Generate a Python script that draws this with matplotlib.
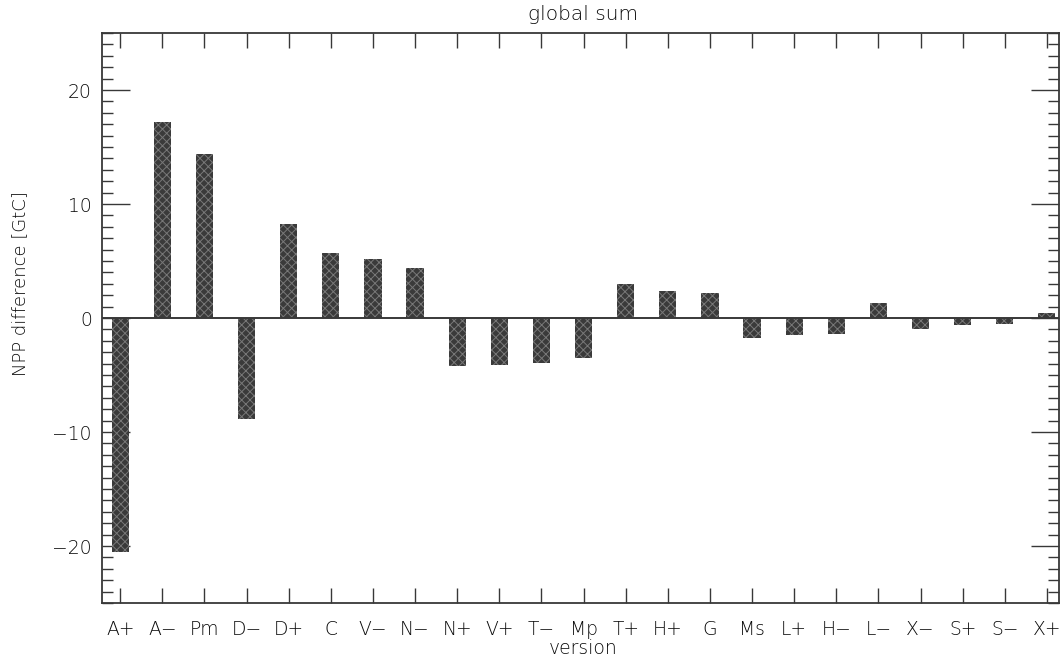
import matplotlib
matplotlib.use("Agg")
import matplotlib.pyplot as plt
from matplotlib.ticker import MultipleLocator, FixedLocator
from matplotlib import font_manager
import numpy as np

versions = ["A+", "A\u2212", "Pm", "D\u2212", "D+", "C", "V\u2212", "N\u2212", "N+",
            "V+", "T\u2212", "Mp", "T+", "H+", "G", "Ms", "L+", "H\u2212", "L\u2212",
            "X\u2212", "S+", "S\u2212", "X+"]
npp_diff = [-20.5, 17.2, 14.35, -8.85, 8.25, 5.7, 5.2, 4.4, -4.25,
            -4.15, -3.95, -3.5, 3.0, 2.4, 2.2, -1.75, -1.5, -1.4, 1.3,
            -1.0, -0.65, -0.5, 0.42]

ink = "#383838"
txt = "#0a0a0a"
plt.rcParams["font.family"] = "DejaVu Sans"
plt.rcParams["hatch.linewidth"] = 0.7

# thin weight if the ExtraLight face is present
names = {f.name + "|" + str(f.weight) for f in font_manager.fontManager.ttflist}
weight = "light" if any(n.startswith("DejaVu Sans|") and n.split("|")[1] in ("200", "light", "extra light")
                        for n in names) else "normal"

W, H = 1061, 660
fig = plt.figure(figsize=(W / 100, H / 100), dpi=100)
ax = fig.add_axes([101.7 / W, 1 - 603 / H, (1059.5 - 101.7) / W, (603 - 33) / H])

x = np.arange(len(versions))
# solid fill, then a fine stipple on top
ax.bar(x, npp_diff, width=0.41, color="#3a3a3a", edgecolor="none", zorder=2)
ax.bar(x, npp_diff, width=0.41, facecolor="none", edgecolor="#787878",
       linewidth=0, hatch="xxxx", zorder=3)
ax.axhline(0, color=ink, linewidth=1.4, zorder=4)

ax.set_xlim(-0.44, 22.3)
ax.set_ylim(-25, 25)

ax.set_xticks(x)
ax.set_xticklabels(versions)
ax.yaxis.set_major_locator(FixedLocator([-20, -10, 0, 10, 20]))
ax.yaxis.set_minor_locator(MultipleLocator(1))

ax.tick_params(axis="x", which="both", direction="in", top=True, bottom=True,
               length=11, width=1.0, color=ink, pad=12, labelsize=13.5, labelcolor=txt)
ax.tick_params(axis="y", which="major", direction="in", left=True, right=True,
               length=20, width=1.0, color=ink, pad=7, labelsize=13.5, labelcolor=txt)
ax.tick_params(axis="y", which="minor", direction="in", left=True, right=True,
               length=8, width=1.0, color=ink)
for lab in ax.get_xticklabels() + ax.get_yticklabels():
    lab.set_fontweight(weight)

for side in ax.spines.values():
    side.set_color(ink)
    side.set_linewidth(1.3)

fig.text(583 / W, 1 - 15 / H, "global sum", ha="center", va="center",
         fontsize=14.5, color=txt, fontweight=weight)
fig.text(583 / W, 1 - 648 / H, "version", ha="center", va="center",
         fontsize=13.5, color=txt, fontweight=weight)
fig.text(20 / W, 1 - 284 / H, "NPP difference [GtC]", ha="center", va="center",
         rotation=90, fontsize=13, color=txt, fontweight=weight)

fig.savefig("out.png", dpi=100)
